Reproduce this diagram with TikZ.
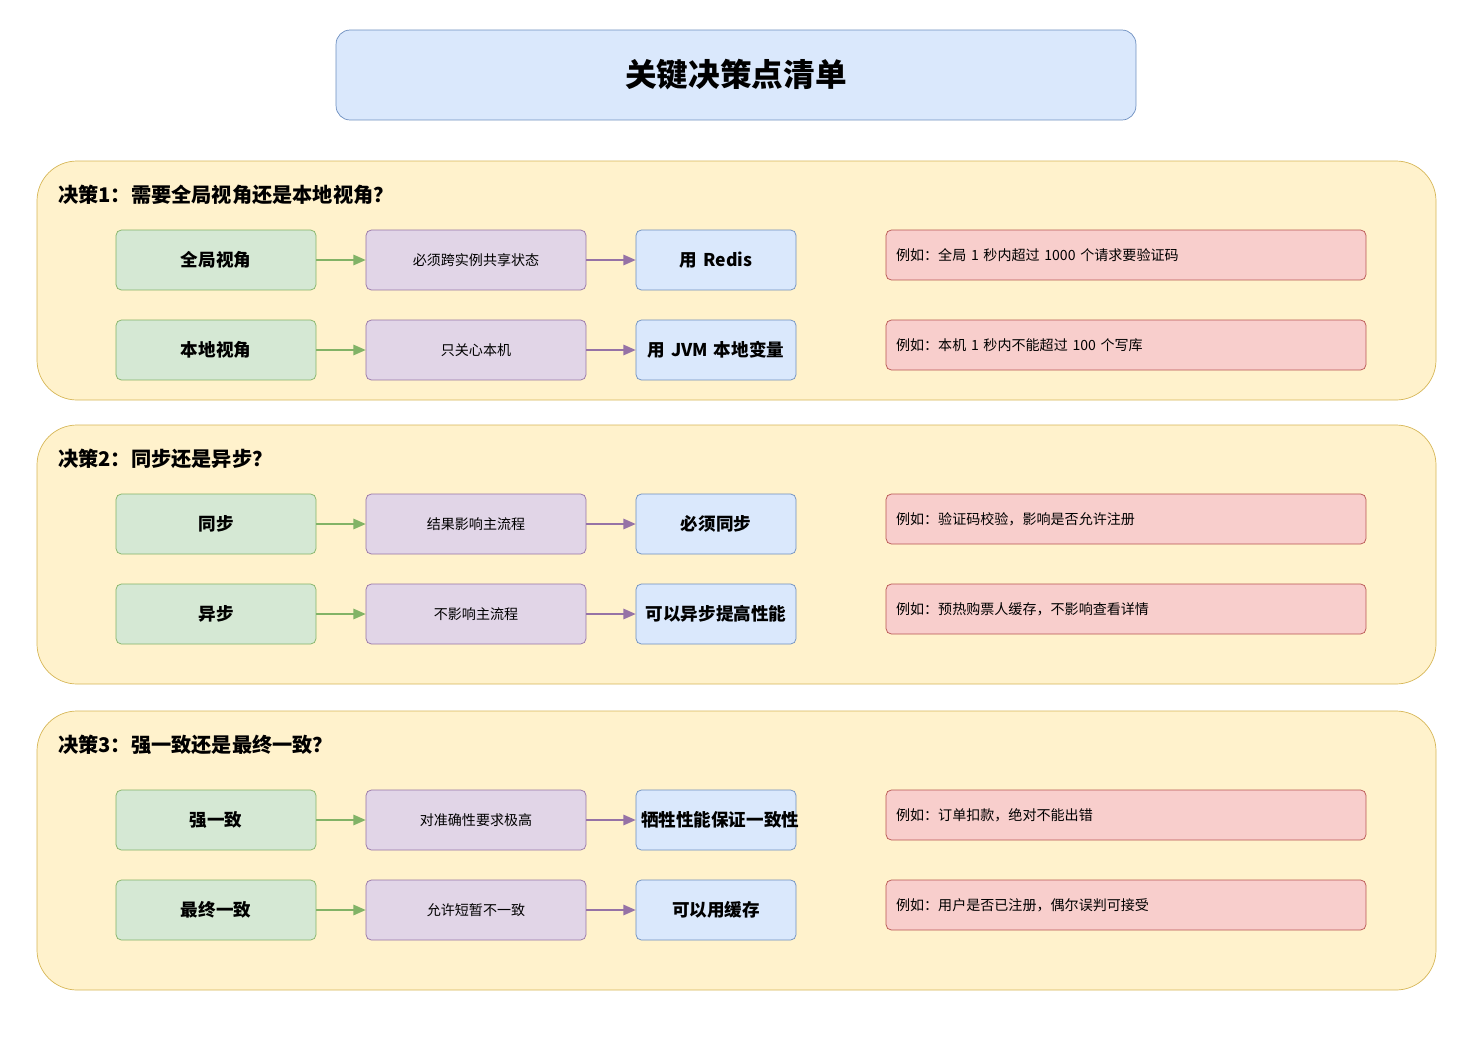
\documentclass[tikz,border=0pt]{standalone}
\usepackage{fontspec}
\setmainfont{Noto Sans CJK SC}
\usetikzlibrary{arrows.meta, positioning}
\definecolor{greenfill}{HTML}{D5E8D4}\definecolor{greendraw}{HTML}{82B366}
\definecolor{purplefill}{HTML}{E1D5E7}\definecolor{purpledraw}{HTML}{9673A6}
\definecolor{bluefill}{HTML}{DAE8FC}\definecolor{bluedraw}{HTML}{6C8EBF}
\definecolor{redfill}{HTML}{F8CECC}\definecolor{reddraw}{HTML}{B85450}
\definecolor{panelfill}{HTML}{FFF2CC}\definecolor{paneldraw}{HTML}{D6B656}
\tikzstyle{panel} = [draw=paneldraw, fill=panelfill, rounded corners=0.8cm]
\tikzstyle{choice} = [rectangle, rounded corners=3pt, draw=greendraw, fill=greenfill, minimum width=4cm, minimum height=1.2cm, font=\fontsize{10}{12}\selectfont\bfseries]
\tikzstyle{reason} = [rectangle, rounded corners=3pt, draw=purpledraw, fill=purplefill, minimum width=4.4cm, minimum height=1.2cm, font=\fontsize{8}{10}\selectfont]
\tikzstyle{result} = [rectangle, rounded corners=3pt, draw=bluedraw, fill=bluefill, minimum width=3.2cm, minimum height=1.2cm, text width=3cm, align=center, inner sep=1pt, font=\fontsize{10}{11}\selectfont\bfseries]
\tikzstyle{example} = [rectangle, rounded corners=3pt, draw=reddraw, fill=redfill, minimum width=9.6cm, minimum height=1cm, text width=9.2cm, align=left, font=\fontsize{8}{10}\selectfont]
\tikzstyle{heading} = [anchor=west, font=\fontsize{11.5}{14}\selectfont\bfseries]
\tikzstyle{garrow} = [thick, greendraw, -{Triangle[length=7pt,width=6pt]}]
\tikzstyle{parrow} = [thick, purpledraw, -{Triangle[length=7pt,width=6pt]}]
\begin{document}
\begin{tikzpicture}[x=0.02cm, y=-0.02cm]
\useasboundingbox (0,0) rectangle (1478,1038);
% title
\node (Title) [draw=bluedraw, fill=bluefill, rounded corners=8pt, minimum width=16cm, minimum height=1.8cm, font=\fontsize{18}{20}\selectfont\bfseries] at (736,75) {关键决策点清单};
% panels
\draw [panel] (37,161) rectangle (1436,400);
\draw [panel] (37,425) rectangle (1436,684);
\draw [panel] (37,711) rectangle (1436,990);
\node (Decision1) [heading] at (52,195) {决策1：需要全局视角还是本地视角？};
\node (Decision2) [heading] at (52,459) {决策2：同步还是异步？};
\node (Decision3) [heading] at (52,745) {决策3：强一致还是最终一致？};
% decision 1
\node (Global) [choice] at (216,260) {全局视角};
\node (GlobalWhy) [reason] at (476,260) {必须跨实例共享状态};
\node (GlobalUse) [result] at (716,260) {用 Redis};
\node (GlobalEg) [example] at (1126,255) {例如：全局 1 秒内超过 1000 个请求要验证码};
\node (Local) [choice] at (216,350) {本地视角};
\node (LocalWhy) [reason] at (476,350) {只关心本机};
\node (LocalUse) [result] at (716,350) {用 JVM 本地变量};
\node (LocalEg) [example] at (1126,345) {例如：本机 1 秒内不能超过 100 个写库};
% decision 2
\node (Sync) [choice] at (216,524) {同步};
\node (SyncWhy) [reason] at (476,524) {结果影响主流程};
\node (SyncUse) [result] at (716,524) {必须同步};
\node (SyncEg) [example] at (1126,519) {例如：验证码校验，影响是否允许注册};
\node (Async) [choice] at (216,614) {异步};
\node (AsyncWhy) [reason] at (476,614) {不影响主流程};
\node (AsyncUse) [result] at (716,614) {可以异步提高性能};
\node (AsyncEg) [example] at (1126,609) {例如：预热购票人缓存，不影响查看详情};
% decision 3
\node (Strong) [choice] at (216,820) {强一致};
\node (StrongWhy) [reason] at (476,820) {对准确性要求极高};
\node (StrongUse) [result] at (716,820) {牺牲性能保证一致性};
\node (StrongEg) [example] at (1126,815) {例如：订单扣款，绝对不能出错};
\node (Eventual) [choice] at (216,910) {最终一致};
\node (EventualWhy) [reason] at (476,910) {允许短暂不一致};
\node (EventualUse) [result] at (716,910) {可以用缓存};
\node (EventualEg) [example] at (1126,905) {例如：用户是否已注册，偶尔误判可接受};
% arrows
\draw [garrow] (Global) -- (GlobalWhy);
\draw [parrow] (GlobalWhy) -- (GlobalUse);
\draw [garrow] (Local) -- (LocalWhy);
\draw [parrow] (LocalWhy) -- (LocalUse);
\draw [garrow] (Sync) -- (SyncWhy);
\draw [parrow] (SyncWhy) -- (SyncUse);
\draw [garrow] (Async) -- (AsyncWhy);
\draw [parrow] (AsyncWhy) -- (AsyncUse);
\draw [garrow] (Strong) -- (StrongWhy);
\draw [parrow] (StrongWhy) -- (StrongUse);
\draw [garrow] (Eventual) -- (EventualWhy);
\draw [parrow] (EventualWhy) -- (EventualUse);
\end{tikzpicture}
\end{document}
